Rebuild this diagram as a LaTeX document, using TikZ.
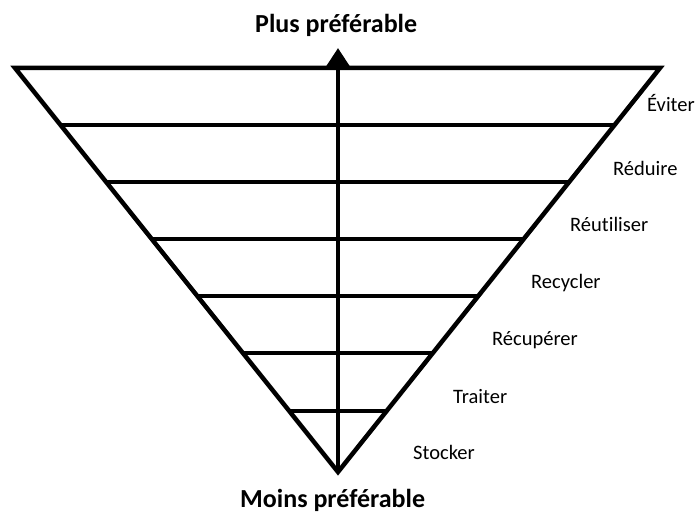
\documentclass[tikz,border=0pt]{standalone}
\usepackage{fontspec}
\setmainfont{Carlito}[Ligatures=NoCommon]
\usetikzlibrary{arrows.meta,calc}
\tikzset{
  thick line/.style={line width=4.5pt, line join=miter},
  level line/.style={line width=4.5pt},
  lvl label/.style={anchor=base west, font=\fontsize{20.5}{24}\selectfont, inner sep=0pt},
  title/.style={anchor=base west, font=\fontsize{26}{30}\selectfont\bfseries, inner sep=0pt},
  axis arrow/.style={line width=4.5pt, -{Triangle[length=18pt,width=22pt]}}
}
\begin{document}
\begin{tikzpicture}[x=1pt,y=-1pt]
\useasboundingbox (0,0) rectangle (697,513);
\coordinate (TL) at (15,68);
\coordinate (TR) at (660,68);
\coordinate (A) at (338,472);
\coordinate (top) at (338,48);
% level points on edges
\foreach \i/\yy in {1/125,2/182,3/239,4/296,5/353,6/411}{
  \pgfmathsetmacro{\t}{(\yy-68)/(472-68)}
  \coordinate (L\i) at ($(TL)!\t!(A)$);
  \coordinate (R\i) at ($(TR)!\t!(A)$);
}
\draw[thick line] (TL) -- (TR) -- (A) -- cycle;
\foreach \i in {1,...,6}{
  \draw[level line] (L\i) -- (R\i);
}
\draw[axis arrow] (A) -- (top);
\node[title] (plus) at (255,33) {Plus préférable};
\node[title] (moins) at (240,507) {Moins préférable};
\node[lvl label] (e1) at (647,112) {Éviter};
\node[lvl label] (e2) at (613,176) {Réduire};
\node[lvl label] (e3) at (570,232) {Réutiliser};
\node[lvl label] (e4) at (531,289) {Recycler};
\node[lvl label] (e5) at (492,346) {Récupérer};
\node[lvl label] (e6) at (453,403) {Traiter};
\node[lvl label] (e7) at (413,460) {Stocker};
\end{tikzpicture}
\end{document}
